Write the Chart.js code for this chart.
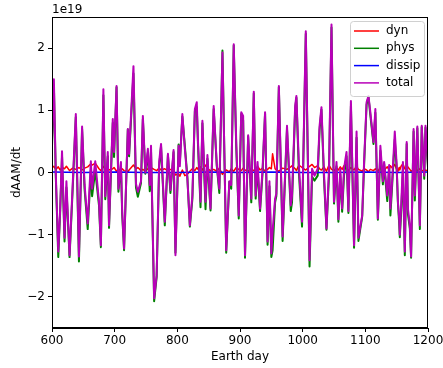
<!DOCTYPE html>
<html>
<head>
<meta charset="utf-8">
<script src="https://cdn.jsdelivr.net/npm/chart.js@4/dist/chart.umd.min.js"></script>
<style>
  body { margin: 0; background: #fff; }
  #wrap { width: 443px; height: 368px; }
</style>
</head>
<body>
<div id="wrap"><canvas id="aam" width="443" height="368"></canvas></div>
<script>
// dAAM/dt budget terms, in units of 1e19
const days = [600, 603, 606, 610, 613, 616, 620, 623, 628, 633, 638, 643, 648, 652, 657, 662, 664, 669, 675, 678,
  682, 685, 689, 691, 697, 699, 703, 706, 710, 712, 715, 721, 723, 730, 734, 737, 742, 745, 749, 753,
  756, 758, 763, 767, 771, 774, 780, 785, 789, 794, 797, 802, 804, 808, 812, 816, 820, 824, 828, 831,
  833, 837, 840, 845, 848, 853, 858, 863, 867, 872, 878, 883, 886, 890, 894, 898, 902, 905, 908, 913,
  918, 922, 925, 928, 932, 936, 940, 944, 947, 950, 952, 956, 958, 962, 968, 975, 981, 983, 988, 990,
  994, 999, 1005, 1011, 1015, 1019, 1024, 1027, 1030, 1034, 1038, 1042, 1046, 1050, 1054, 1057, 1060, 1063, 1066, 1070,
  1073, 1077, 1082, 1086, 1089, 1095, 1098, 1102, 1105, 1108, 1113, 1116, 1120, 1124, 1128, 1130, 1132, 1135, 1138, 1140,
  1143, 1147, 1150, 1152, 1154, 1155, 1157, 1160, 1163, 1166, 1168, 1171, 1173, 1177, 1179, 1183, 1187, 1190, 1194, 1196,
  1200];

const total = [0.5, 1.5, 0.0, -1.27, -0.6, 0.34, -1.05, -0.14, -1.33, -0.2, 0.94, -1.35, 0.74, -0.2, -0.82, 0.18, -0.26, 0.18, -0.47, -1.17,
  1.34, -0.38, 0.33, -0.85, 0.86, 0.33, 1.39, -0.26, 0.17, -0.62, -1.22, 0.70, 0.30, 1.71, -0.18, -0.31, -0.14, 0.91, 0.0, 0.38,
  -0.2, 0.43, -2.02, -1.65, 0.17, 0.46, -0.79, 0.30, -0.28, 0.36, -1.33, 0.43, 0.1, 0.94, 0.38, -0.1, -0.85, -0.37, 1.02, 1.13,
  0.49, -0.47, 0.83, -0.47, 0.28, -0.58, 1.07, 0.12, -0.26, 1.93, -1.25, -0.14, -0.2, 2.06, 0.49, -0.69, 0.97, 0.91, -1.33, 0.6,
  -0.42, 1.3, -0.37, 0.17, -0.58, 0.06, 0.97, -1.11, -0.14, -1.3, -0.95, -0.42, -0.34, 1.39, -1.03, 0.75, -0.53, -0.37, 1.07, 1.23,
  0.12, -0.79, 2.27, -1.41, 0.06, -0.05, 0.06, 0.75, 1.05, 0.0, -0.9, 0.06, 2.38, -0.47, 0.17, -0.75, 0.06, -0.58, 0.06, 0.33,
  -0.62, 1.15, -1.17, 0.66, -1.05, -0.69, 0.17, 1.13, 1.23, 0.97, 0.49, 1.02, -0.74, 0.43, -0.14, 0.17, -0.05, -0.37, 0.12, -0.58,
  -0.1, 0.66, 0.12, -0.47, -0.74, -1.0, -0.58, 0.17, -1.27, 0.49, -0.58, -0.85, -1.35, 0.7, -0.37, 0.74, -0.85, 0.75, -0.05, 0.75,
  0.12];

const dyn = [0.08, 0.10, 0.05, 0.09, 0.04, 0.08, 0.06, 0.10, 0.03, 0.07, 0.05, 0.08, 0.04, 0.07, 0.09, 0.14, 0.12, 0.15, 0.06, 0.03,
  0.10, 0.05, 0.07, 0.04, 0.06, 0.08, 0.02, 0.05, 0.04, 0.06, 0.03, 0.01, 0.04, 0.12, 0.06, 0.08, 0.03, 0.05, 0.02, 0.06,
  0.10, 0.08, 0.05, 0.03, 0.07, 0.04, 0.06, 0.02, 0.05, 0.03, -0.04, -0.02, -0.06, 0.04, -0.05, -0.03, 0.02, 0.06, 0.03, 0.08,
  0.05, 0.09, 0.04, 0.12, 0.06, 0.03, 0.05, 0.02, 0.07, -0.03, 0.04, 0.01, 0.06, 0.02, 0.08, 0.05, 0.03, 0.07, 0.04, 0.02,
  0.06, 0.03, 0.05, 0.10, 0.04, 0.07, 0.02, 0.05, 0.08, 0.06, 0.30, 0.06, 0.04, 0.02, 0.07, 0.05, 0.09, 0.11, 0.06, 0.03,
  0.12, 0.08, 0.04, 0.10, 0.13, 0.08, 0.11, 0.06, 0.04, 0.09, 0.02, 0.12, 0.05, 0.03, 0.07, 0.04, 0.09, 0.05, 0.11, 0.07,
  0.03, 0.08, 0.04, 0.10, 0.05, 0.02, 0.06, 0.04, 0.01, 0.05, 0.03, 0.06, 0.02, 0.08, 0.05, 0.03, 0.06, 0.09, 0.04, 0.11,
  0.07, 0.13, 0.05, 0.02, 0.08, 0.04, 0.10, 0.14, 0.06, 0.03, 0.09, 0.05, 0.02, 0.04, 0.08, 0.03, 0.06, 0.02, 0.05, 0.03,
  0.04];

const phys = [0.42, 1.40, -0.05, -1.36, -0.64, 0.26, -1.11, -0.24, -1.36, -0.27, 0.89, -1.43, 0.70, -0.27, -0.91, 0.04, -0.38, 0.03, -0.53, -1.20,
  1.24, -0.43, 0.26, -0.89, 0.80, 0.25, 1.37, -0.31, 0.13, -0.68, -1.25, 0.69, 0.26, 1.59, -0.24, -0.39, -0.17, 0.86, -0.02, 0.32,
  -0.30, 0.35, -2.07, -1.68, 0.10, 0.42, -0.85, 0.28, -0.33, 0.33, -1.29, 0.45, 0.16, 0.90, 0.43, -0.07, -0.87, -0.43, 0.99, 1.05,
  0.44, -0.56, 0.79, -0.59, 0.22, -0.61, 1.02, 0.10, -0.33, 1.96, -1.29, -0.15, -0.26, 2.04, 0.41, -0.74, 0.94, 0.84, -1.37, 0.58,
  -0.48, 1.27, -0.42, 0.07, -0.62, -0.01, 0.95, -1.16, -0.22, -1.36, -1.25, -0.48, -0.38, 1.37, -1.10, 0.70, -0.62, -0.48, 1.01, 1.20,
  0.00, -0.87, 2.23, -1.51, -0.07, -0.13, -0.05, 0.69, 1.01, -0.09, -0.92, -0.06, 2.33, -0.50, 0.10, -0.79, -0.03, -0.63, -0.05, 0.26,
  -0.65, 1.07, -1.21, 0.56, -1.10, -0.71, 0.11, 1.09, 1.22, 0.92, 0.46, 0.96, -0.76, 0.35, -0.19, 0.14, -0.11, -0.46, 0.08, -0.69,
  -0.17, 0.53, 0.07, -0.49, -0.82, -1.04, -0.68, 0.03, -1.33, 0.46, -0.67, -0.90, -1.37, 0.66, -0.45, 0.71, -0.91, 0.73, -0.10, 0.72,
  0.08];

// dissipation term is sampled coarser, it stays at ~0
const dissipDays = [600, 650, 700, 750, 800, 850, 900, 950, 1000, 1050, 1100, 1150, 1200];
const dissip = [0.01, 0.0, 0.01, 0.0, 0.0, 0.01, 0.0, 0.01, 0.0, 0.0, 0.01, 0.0, 0.01];

const xTicks = [600, 700, 800, 900, 1000, 1100, 1200];
const yTicks = [-2, -1, 0, 1, 2];

const toXY = (xs, ys) => xs.map((d, i) => ({ x: d, y: ys[i] }));

Chart.defaults.font.family = "'DejaVu Sans', sans-serif";
Chart.defaults.font.size = 12;
Chart.defaults.color = '#000';

// frame around the plot, offset text and boxed legend
const decor = {
    id: 'decor',
    afterDraw(chart) {
        const { ctx, chartArea: a } = chart;
        ctx.save();
        ctx.strokeStyle = '#000';
        ctx.lineWidth = 1;
        ctx.strokeRect(a.left + 0.5, a.top + 0.5, a.right - a.left - 1, a.bottom - a.top - 1);

        ctx.fillStyle = '#000';
        ctx.font = "12px 'DejaVu Sans'";
        ctx.textAlign = 'left';
        ctx.textBaseline = 'alphabetic';
        ctx.fillText('1e19', a.left, a.top - 4);

        // legend box
        const bw = 74, bh = 75;
        const bx = a.right - 4 - bw, by = a.top + 4;
        ctx.beginPath();
        ctx.roundRect(bx + 0.5, by + 0.5, bw, bh, 3);
        ctx.fillStyle = 'rgba(255,255,255,0.8)';
        ctx.fill();
        ctx.strokeStyle = '#d0d0d0';
        ctx.stroke();

        ctx.textBaseline = 'middle';
        chart.data.datasets.forEach((ds, i) => {
            const y = by + 10 + i * 17.3;
            ctx.beginPath();
            ctx.strokeStyle = ds.borderColor;
            ctx.lineWidth = 1.5;
            ctx.moveTo(bx + 4, y);
            ctx.lineTo(bx + 29, y);
            ctx.stroke();
            ctx.fillStyle = '#000';
            ctx.fillText(ds.label, bx + 36, y);
        });
        ctx.restore();
    }
};

const ctx = document.getElementById('aam').getContext('2d');
const chart = new Chart(ctx, {
    type: 'line',
    data: {
        datasets: [
            { label: 'dyn', data: toXY(days, dyn), borderColor: '#ff0000', borderWidth: 1.5, order: 4 },
            { label: 'phys', data: toXY(days, phys), borderColor: '#008000', borderWidth: 2, order: 3 },
            { label: 'dissip', data: toXY(dissipDays, dissip), borderColor: '#0000ff', borderWidth: 1.5, order: 2 },
            { label: 'total', data: toXY(days, total), borderColor: '#b800b8', borderWidth: 2, order: 1 }
        ]
    },
    options: {
        responsive: false,
        animation: false,
        elements: {
            point: { radius: 0 },
            line: { tension: 0, fill: false, borderJoinStyle: 'round' }
        },
        layout: { padding: { top: 17, right: 15, left: 0, bottom: 0 } },
        plugins: {
            legend: { display: false },
            tooltip: { enabled: false }
        },
        scales: {
            x: {
                type: 'linear',
                min: 600,
                max: 1200,
                afterFit: s => { s.height = 40; s.paddingLeft = 0; s.paddingRight = 0; },
                afterBuildTicks: s => { s.ticks = xTicks.map(v => ({ value: v })); },
                grid: { drawOnChartArea: false, drawTicks: true, tickLength: 4, color: '#000' },
                border: { color: '#000' },
                ticks: { padding: 2, maxRotation: 0, callback: v => String(v) },
                title: { display: true, text: 'Earth day', padding: { top: 0, bottom: 4 } }
            },
            y: {
                type: 'linear',
                min: -2.5,
                max: 2.5,
                afterFit: s => { s.width = 52; s.paddingTop = 0; s.paddingBottom = 0; },
                afterBuildTicks: s => { s.ticks = yTicks.map(v => ({ value: v })); },
                grid: { drawOnChartArea: false, drawTicks: true, tickLength: 4, color: '#000' },
                border: { color: '#000' },
                ticks: {
                    padding: 3,
                    callback: v => v < 0 ? '\u2212' + Math.abs(v) : String(v)
                },
                title: { display: true, text: 'dAAM/dt', padding: { top: 10, bottom: 0 } }
            }
        }
    },
    plugins: [decor]
});
</script>
</body>
</html>
